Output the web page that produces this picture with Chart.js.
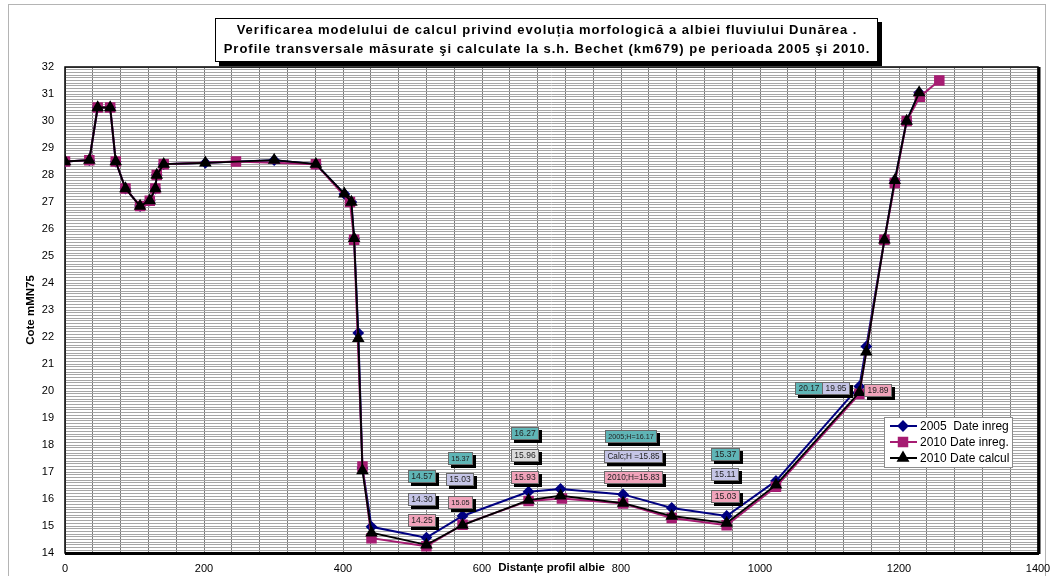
<!DOCTYPE html>
<html>
<head>
<meta charset="utf-8">
<script src="https://cdn.jsdelivr.net/npm/chart.js@4.4.1/dist/chart.umd.min.js"></script>
<style>
  html, body { margin: 0; padding: 0; background: #fff; }
</style>
</head>
<body>
<canvas id="chart" width="1053" height="576"></canvas>
<script>
const FONT = "'Liberation Sans', Arial, sans-serif";

const titleLines = [
  'Verificarea modelului de calcul privind evoluția morfologică a albiei fluviului Dunărea .',
  'Profile transversale măsurate şi calculate la s.h. Bechet (km679) pe perioada 2005 şi 2010.'
];
const seriesNames = ['2005  Date inreg', '2010 Date inreg.', '2010 Date calcul'];

// 2005 measured profile
const dist2005 = [0, 35, 47, 65, 73, 87, 108, 122, 130, 132, 142, 202, 301, 361, 402, 412, 416, 422, 428, 441,
  520, 572, 667, 713, 803, 873, 952, 1023, 1143, 1153, 1179, 1194, 1211, 1229];
const cote2005 = [28.5, 28.55, 30.5, 30.5, 28.5, 27.5, 26.85, 27.05, 27.5, 28.0, 28.4, 28.45, 28.55, 28.4, 27.3, 27.0, 25.65, 22.15, 17.15, 14.97,
  14.57, 15.37, 16.27, 16.37, 16.17, 15.67, 15.37, 16.67, 20.17, 21.65, 25.6, 27.8, 30.0, 31.05];

// 2010 measured profile
const dist2010 = [0, 35, 47, 65, 73, 87, 108, 122, 130, 132, 142, 246, 361, 410, 416, 428, 441,
  520, 572, 667, 715, 803, 873, 952, 1023, 1143, 1179, 1194, 1211, 1230, 1258];
const cote2010 = [28.5, 28.55, 30.5, 30.5, 28.5, 27.5, 26.85, 27.05, 27.5, 28.0, 28.4, 28.5, 28.4, 27.0, 25.6, 17.2, 14.55,
  14.25, 15.05, 15.93, 16.02, 15.83, 15.3, 15.03, 16.45, 19.89, 25.6, 27.7, 30.0, 30.9, 31.5];

// 2010 computed profile
const distCalc = [0, 35, 47, 65, 73, 87, 108, 122, 130, 132, 142, 202, 301, 361, 402, 412, 416, 422, 428, 441,
  520, 572, 667, 713, 803, 873, 952, 1023, 1143, 1153, 1179, 1194, 1211, 1229];
const coteCalc = [28.5, 28.55, 30.5, 30.5, 28.5, 27.5, 26.85, 27.05, 27.5, 28.0, 28.4, 28.45, 28.55, 28.4, 27.3, 27.0, 25.65, 21.95, 17.05, 14.75,
  14.30, 15.03, 15.96, 16.12, 15.85, 15.37, 15.11, 16.52, 19.95, 21.45, 25.6, 27.8, 30.0, 31.05];

const xTickLabels = [0, 200, 400, 600, 800, 1000, 1200, 1400];
const yTickLabels = [14, 15, 16, 17, 18, 19, 20, 21, 22, 23, 24, 25, 26, 27, 28, 29, 30, 31, 32];

const TEAL = '#5fb5b6', LILAC = '#c5c5e6', ROSE = '#f0a3ba', GREY = '#dadada';

// value tags, anchored in data coordinates
const tags = [
  { text: '14.57', x: 514, y: 16.83, fill: TEAL, size: 8.5 },
  { text: '14.30', x: 514, y: 15.99, fill: LILAC, size: 8.5 },
  { text: '14.25', x: 514, y: 15.19, fill: ROSE, size: 8.5 },
  { text: '15.37', x: 569, y: 17.51, fill: TEAL, size: 7.3 },
  { text: '15.03', x: 569, y: 16.71, fill: LILAC, size: 8.5 },
  { text: '15.05', x: 569, y: 15.88, fill: ROSE, size: 7.3 },
  { text: '16.27', x: 662, y: 18.44, fill: TEAL, size: 8.5 },
  { text: '15.96', x: 662, y: 17.61, fill: GREY, size: 8.5 },
  { text: '15.93', x: 662, y: 16.79, fill: ROSE, size: 8.5 },
  { text: '2005;H=16.17', x: 815, y: 18.32, fill: TEAL, size: 7.2 },
  { text: 'Calc;H =15.85', x: 818, y: 17.57, fill: LILAC, size: 8.2 },
  { text: '2010;H=15.83', x: 818, y: 16.79, fill: ROSE, size: 8.3 },
  { text: '15.37', x: 950, y: 17.66, fill: TEAL, size: 8.6 },
  { text: '15.11', x: 950, y: 16.92, fill: LILAC, size: 8.6 },
  { text: '15.03', x: 950, y: 16.11, fill: ROSE, size: 8.6 },
  { text: '20.17', x: 1070, y: 20.08, fill: TEAL, size: 8.4 },
  { text: '19.95', x: 1110, y: 20.08, fill: LILAC, size: 8.4 },
  { text: '19.89', x: 1170, y: 20.02, fill: ROSE, size: 8.4 }
];

function toPoints(xs, ys) {
  return xs.map((x, i) => ({ x: x, y: ys[i] }));
}

function drawTag(ctx, sx, sy, tag) {
  ctx.font = tag.size + 'px ' + FONT;
  const w = Math.round(ctx.measureText(tag.text).width + 7), h = 13;
  const x = Math.round(sx - w / 2), y = Math.round(sy - h / 2);
  ctx.fillStyle = '#000';
  ctx.fillRect(x + 3, y + 3, w, h);
  ctx.fillStyle = tag.fill;
  ctx.fillRect(x, y, w, h);
  ctx.strokeStyle = '#6a6a6a';
  ctx.lineWidth = 1;
  ctx.strokeRect(x + 0.5, y + 0.5, w - 1, h - 1);
  ctx.fillStyle = '#222';
  ctx.textAlign = 'center';
  ctx.textBaseline = 'middle';
  ctx.fillText(tag.text, x + w / 2, y + h / 2 + 0.5);
}

const decor = {
  id: 'decor',
  beforeDraw(chart) {
    const { ctx, chartArea: a } = chart;
    ctx.save();
    // outer frame
    ctx.strokeStyle = '#b4b4b4';
    ctx.lineWidth = 1;
    ctx.strokeRect(8.5, 4.5, chart.width - 16, chart.height - 3);
    // title box with shadow and the two title lines
    ctx.font = 'bold 13px ' + FONT;
    ctx.letterSpacing = '1px';
    const tw = Math.max(...titleLines.map(s => ctx.measureText(s).width));
    const cx = (a.left + a.right) / 2 - 5;
    const bx = Math.round(cx - tw / 2 - 8), bw = Math.round(tw + 16);
    const by = 18, bh = 44;
    ctx.fillStyle = '#000';
    ctx.fillRect(bx + 4, by + 4, bw, bh);
    ctx.fillStyle = '#fff';
    ctx.fillRect(bx, by, bw, bh);
    ctx.strokeStyle = '#000';
    ctx.strokeRect(bx + 0.5, by + 0.5, bw - 1, bh - 1);
    ctx.fillStyle = '#000';
    ctx.textAlign = 'center';
    ctx.textBaseline = 'middle';
    titleLines.forEach((s, i) => ctx.fillText(s, cx + 0.5, by + 12 + i * 19));
    ctx.restore();
  },
  beforeDatasetsDraw(chart) {
    const { ctx, chartArea: a } = chart;
    ctx.save();
    ctx.strokeStyle = '#000';
    ctx.lineWidth = 1.5;
    ctx.strokeRect(a.left, a.top, a.right - a.left, a.bottom - a.top);
    ctx.lineWidth = 3;
    ctx.beginPath();
    ctx.moveTo(a.right + 1, a.top);
    ctx.lineTo(a.right + 1, a.bottom + 1);
    ctx.moveTo(a.left, a.bottom + 0.5);
    ctx.lineTo(a.right + 1, a.bottom + 0.5);
    ctx.stroke();
    ctx.restore();
  },
  afterDraw(chart) {
    const { ctx, chartArea: a, scales } = chart;
    ctx.save();
    tags.forEach(tag => drawTag(ctx, scales.x.getPixelForValue(tag.x), scales.y.getPixelForValue(tag.y), tag));

    // legend box inside the plot
    const w = 128, h = 50;
    const x0 = Math.round(a.right - 26 - w), y0 = Math.round(a.bottom - 136);
    ctx.fillStyle = '#fff';
    ctx.fillRect(x0, y0, w, h);
    ctx.strokeStyle = '#8c8c8c';
    ctx.lineWidth = 1;
    ctx.strokeRect(x0 + 0.5, y0 + 0.5, w, h);
    chart.data.datasets.forEach((ds, i) => {
      const y = y0 + 9 + i * 16;
      ctx.strokeStyle = ds.borderColor;
      ctx.lineWidth = 2;
      ctx.beginPath();
      ctx.moveTo(x0 + 6, y);
      ctx.lineTo(x0 + 33, y);
      ctx.stroke();
      ctx.fillStyle = ds.backgroundColor;
      ctx.strokeStyle = ds.backgroundColor;
      Chart.helpers.drawPoint(ctx, { pointStyle: ds.pointStyle, radius: ds.pointRadius, borderWidth: 1, rotation: 0 }, x0 + 19, y);
      ctx.fillStyle = '#000';
      ctx.font = '12px ' + FONT;
      ctx.textAlign = 'left';
      ctx.textBaseline = 'middle';
      ctx.fillText(ds.label, x0 + 36, y + 0.5);
    });
    ctx.restore();
  }
};

const ctx = document.getElementById('chart').getContext('2d');

new Chart(ctx, {
  type: 'line',
  data: {
    datasets: [{
        label: seriesNames[0],
        data: toPoints(dist2005, cote2005),
        borderColor: '#000080',
        backgroundColor: '#000080',
        borderWidth: 2,
        pointStyle: 'rectRot',
        pointRadius: 4.5,
        order: 3,
      },
      {
        label: seriesNames[1],
        data: toPoints(dist2010, cote2010),
        borderColor: '#a61c72',
        backgroundColor: '#a61c72',
        borderWidth: 2,
        pointStyle: 'rect',
        pointRadius: 6,
        order: 2,
      },
      {
        label: seriesNames[2],
        data: toPoints(distCalc, coteCalc),
        borderColor: '#000',
        backgroundColor: '#000',
        borderWidth: 1.8,
        pointStyle: 'triangle',
        pointRadius: 5.5,
        order: 1,
      }
    ]
  },
  options: {
    responsive: false,
    animation: false,
    layout: { padding: { left: 0, right: 15, top: 67, bottom: 0 } },
    elements: { line: { tension: 0 }, point: { borderWidth: 1 } },
    plugins: {
      legend: { display: false },
      tooltip: { enabled: false },
      title: { display: false }
    },
    scales: {
      x: {
        type: 'linear',
        min: 0,
        max: 1400,
        afterFit(scale) {
          scale.height = 23;
          scale.paddingLeft = 0;
          scale.paddingRight = 12;
        },
        ticks: {
          stepSize: 40,
          autoSkip: false,
          maxRotation: 0,
          padding: 9,
          color: '#000',
          font: { family: FONT, size: 11 },
          callback: v => xTickLabels.includes(v) ? String(v) : ''
        },
        grid: { color: '#7c7c7c', drawTicks: false },
        border: { display: false },
        title: {
          display: true,
          text: 'Distanțe profil albie',
          color: '#000',
          font: { family: FONT, size: 11.5, weight: 'bold' },
          padding: { top: 0, bottom: 1 }
        }
      },
      y: {
        type: 'linear',
        min: 14,
        max: 32,
        afterFit(scale) { scale.width = 65; },
        ticks: {
          stepSize: 0.1,
          autoSkip: false,
          padding: 11,
          color: '#000',
          font: { family: FONT, size: 11 },
          callback: v => {
            const r = Math.round(v);
            return Math.abs(v - r) < 1e-6 && yTickLabels.includes(r) ? String(r) : '';
          }
        },
        grid: { color: '#a6a6a6', drawTicks: false },
        border: { display: false },
        title: {
          display: true,
          text: 'Cote mMN75',
          color: '#000',
          font: { family: FONT, size: 11.5, weight: 'bold' },
          padding: { top: 24, bottom: 0 }
        }
      }
    }
  },
  plugins: [decor]
});
</script>
</body>
</html>
